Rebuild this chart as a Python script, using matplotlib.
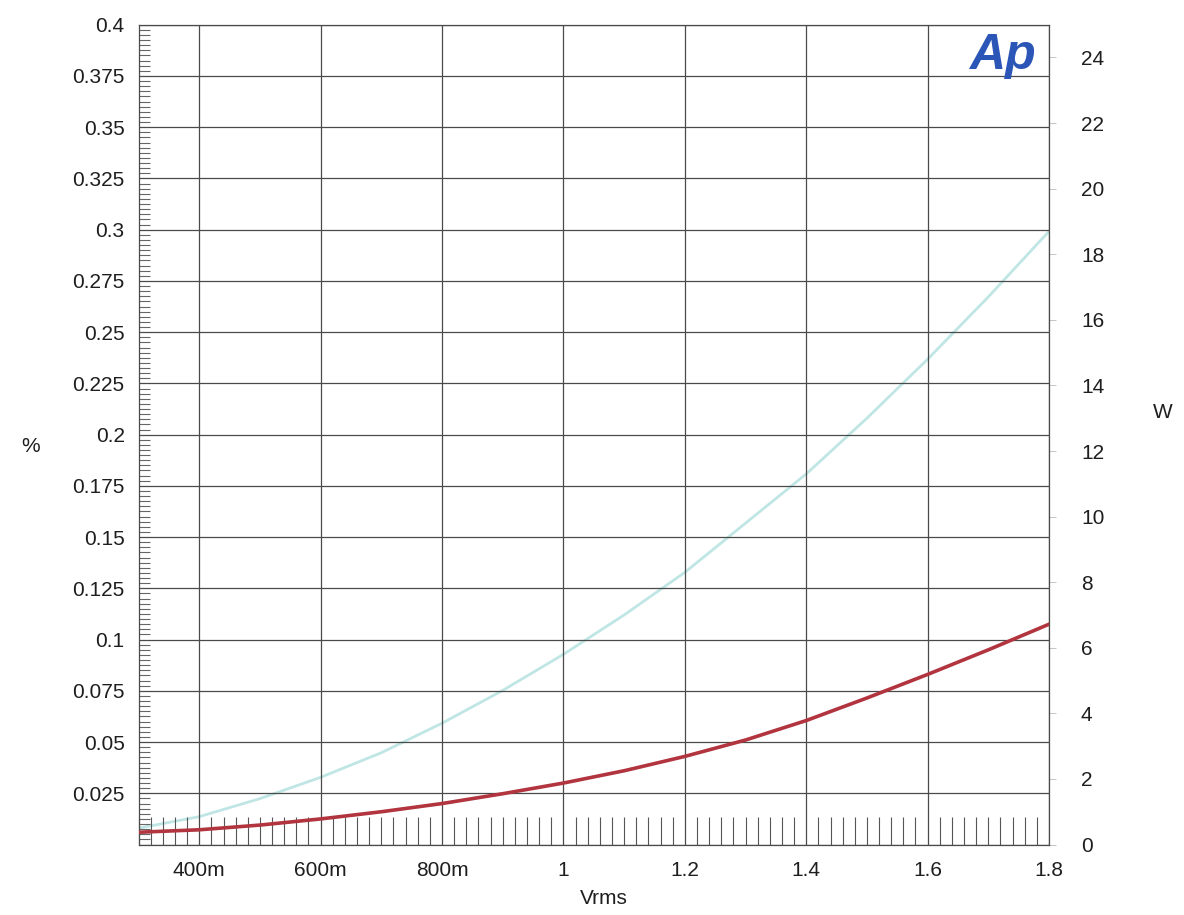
import numpy as np
import matplotlib.pyplot as plt
from matplotlib.ticker import MultipleLocator, FuncFormatter

plt.rcParams['font.family'] = ['Liberation Sans', 'DejaVu Sans']

# Data
vrms = [0.3, 0.4, 0.5, 0.6, 0.7, 0.8, 0.9, 1.0, 1.1, 1.2, 1.3, 1.4, 1.5, 1.6, 1.7, 1.8]
thd_pct = [0.006, 0.0072, 0.0095, 0.0125, 0.016, 0.020, 0.0248, 0.030, 0.036, 0.043,
           0.051, 0.0605, 0.0715, 0.083, 0.095, 0.1075]
power_w = [0.5, 0.85, 1.4, 2.05, 2.8, 3.7, 4.7, 5.8, 7.0, 8.3, 9.8, 11.3, 13.0, 14.8, 16.7, 18.7]

x_ticks = [0.4, 0.6, 0.8, 1.0, 1.2, 1.4, 1.6, 1.8]
x_labels = ['400m', '600m', '800m', '1', '1.2', '1.4', '1.6', '1.8']

grid_col = '#4a4a4a'
txt_col = '#1e1e1e'
fig = plt.figure(figsize=(11.84, 9.15), dpi=100)
ax = fig.add_axes([0.117, 0.077, 0.769, 0.896])

ax.plot(vrms, thd_pct, color='#b1343f', lw=2.6, zorder=4)
ax.set_xlim(0.3, 1.8)
ax.set_ylim(0, 0.4)

ax.yaxis.set_major_locator(MultipleLocator(0.025))
ax.yaxis.set_minor_locator(MultipleLocator(0.0025))
ax.yaxis.set_major_formatter(FuncFormatter(lambda v, p: '' if v < 1e-9 else ('%g' % round(v, 4))))
ax.set_xticks(x_ticks)
ax.set_xticklabels(x_labels)
ax.xaxis.set_minor_locator(MultipleLocator(0.02))

ax.grid(True, which='major', color=grid_col, lw=0.9)
ax.tick_params(axis='y', which='major', direction='in', length=0, pad=10, labelsize=15, colors=txt_col)
ax.tick_params(axis='y', which='minor', direction='in', length=8, width=0.8, color='#666666', right=False)
ax.tick_params(axis='x', which='major', direction='in', length=0, pad=12, labelsize=15, colors=txt_col)
ax.tick_params(axis='x', which='minor', direction='in', length=20, width=0.8, color='#555555', top=False)
for s in ax.spines.values():
    s.set_color(grid_col)
    s.set_linewidth(0.9)

ax2 = ax.twinx()
ax2.plot(vrms, power_w, color='#bfe6e4', lw=2.0, zorder=3)
ax2.set_ylim(0, 25)
ax2.set_yticks(np.arange(0, 25, 2))
ax2.tick_params(axis='y', direction='out', length=5, width=0.6, color='#bbbbbb', pad=18, labelsize=15, labelcolor=txt_col)
for s in ax2.spines.values():
    s.set_visible(False)

ax.set_zorder(ax2.get_zorder() + 1)
ax.patch.set_visible(False)

fig.text(0.026, 0.512, '%', fontsize=15, color=txt_col, ha='center', va='center')
fig.text(0.982, 0.549, 'W', fontsize=15, color=txt_col, ha='center', va='center')
fig.text(0.51, 0.018, 'Vrms', fontsize=15, color=txt_col, ha='center', va='center')

ax.text(0.985, 0.99, 'Ap', transform=ax.transAxes, fontsize=36, fontweight='bold',
        fontstyle='italic', color='#2b56b8', ha='right', va='top', zorder=6)

fig.savefig('out.png', dpi=100)
